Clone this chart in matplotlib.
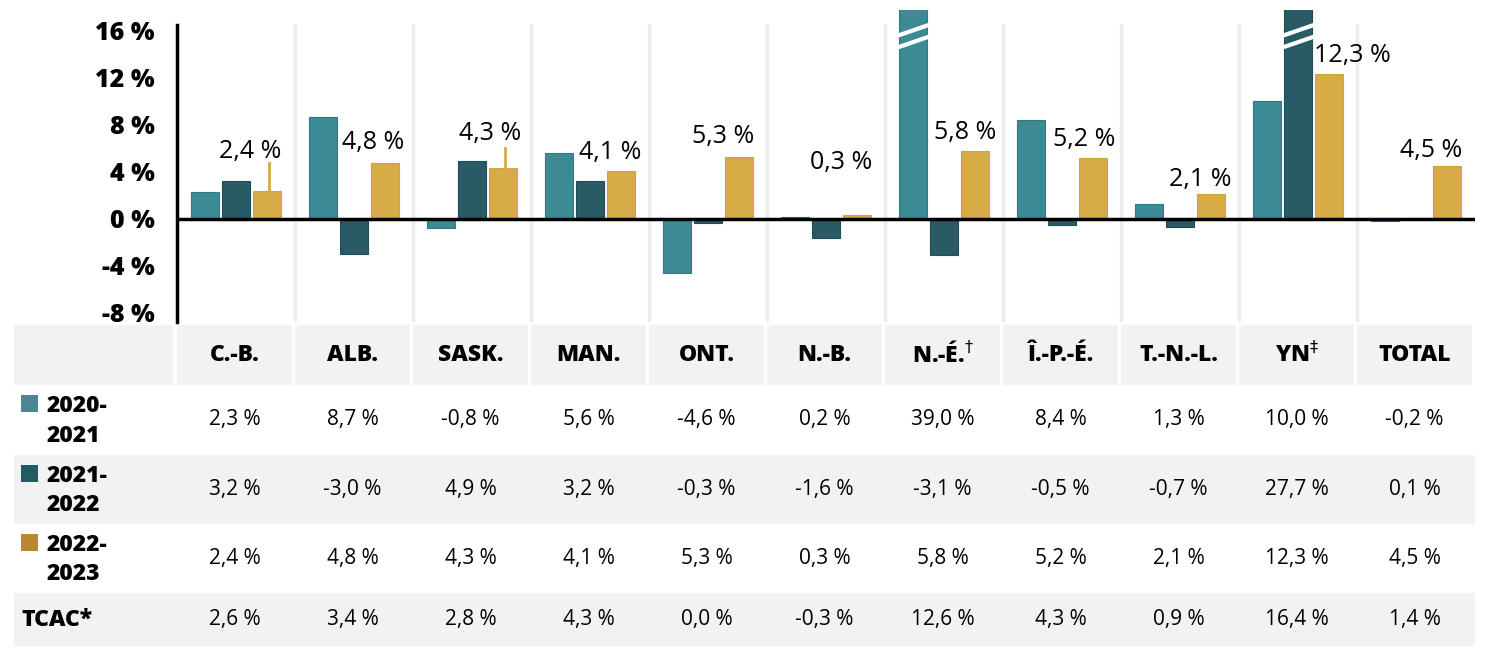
import matplotlib.pyplot as plt
from matplotlib.patches import Rectangle

# données
provinces = ["C.-B.", "ALB.", "SASK.", "MAN.", "ONT.", "N.-B.", "N.-É.$^{\\dagger}$",
             "Î.-P.-É.", "T.-N.-L.", "YN$^{\\ddagger}$", "TOTAL"]
v_2021 = [2.3, 8.7, -0.8, 5.6, -4.6, 0.2, 39.0, 8.4, 1.3, 10.0, -0.2]
v_2022 = [3.2, -3.0, 4.9, 3.2, -0.3, -1.6, -3.1, -0.5, -0.7, 27.7, 0.1]
v_2023 = [2.4, 4.8, 4.3, 4.1, 5.3, 0.3, 5.8, 5.2, 2.1, 12.3, 4.5]
tcac = [2.6, 3.4, 2.8, 4.3, 0.0, -0.3, 12.6, 4.3, 0.9, 16.4, 1.4]
row_labels = ["2020-\n2021", "2021-\n2022", "2022-\n2023", "TCAC*"]
yticks = [-8, -4, 0, 4, 8, 12, 16]
# petits traits au-dessus de certaines barres jaunes (C.-B., SASK.)
traits = {0: 4.8, 2: 6.0}

c_teal = "#3e8a94"
c_dark = "#295b65"
c_gold = "#d7ab46"
leg_cols = ["#4d8591", "#245a64", "#b8892e"]
gris = "#f1f2f2"
police = "Open Sans"

def fmt(v):
    return f"{v:.1f}".replace(".", ",") + " %"

fig = plt.figure(figsize=(15, 6.59), dpi=100)
W, H = 1500, 659

# ---- graphique ----
ax = fig.add_axes([177 / W, (H - 322) / H, 1298 / W, 312 / H])
ax.set_xlim(-0.5, 10.5)
ax.set_ylim(-8.766, 17.787)
n = len(provinces)
x = list(range(n))
bw = 0.24
off = 0.263

for i in range(n - 1):
    ax.plot([i + 0.5, i + 0.5], [-8.766, 16.5], color="#eceeee", lw=2.5, zorder=0)

ax.bar([i - off for i in x], v_2021, bw, color=c_teal, edgecolor="#2f7b85", lw=0.8, zorder=2)
ax.bar(x, v_2022, bw, color=c_dark, edgecolor="#1f4c55", lw=0.8, zorder=2)
ax.bar([i + off for i in x], v_2023, bw, color=c_gold, edgecolor="#cfa33f", lw=0.8, zorder=2)

for i, top in traits.items():
    ax.plot([i + off + 0.02, i + off + 0.02], [v_2023[i], top], color=c_gold, lw=2, zorder=2)

# coupures des barres tronquées
for i, vals, dx in [(6, v_2021, -off), (9, v_2022, 0)]:
    if vals[i] > 17.787:
        for yc in (16.05, 15.05):
            ax.plot([i + dx - bw / 2 - 0.01, i + dx + bw / 2 + 0.01],
                    [yc - 0.45, yc + 0.45], color="white", lw=3, zorder=3)

# étiquettes des barres jaunes (décalages en pixels)
lab_dx = [-17, -12, -13, -11, -16, -16, -10, -9, -11, 23, -16]
lab_dy = [39, 20, 35, 18, 20, 53, 18, 18, 15, 19, 16]
for i in x:
    ax.annotate(fmt(v_2023[i]), (i + off, v_2023[i]),
                xytext=(lab_dx[i] * 0.72, lab_dy[i] * 0.72), textcoords="offset points",
                ha="center", va="center", fontsize=18, family=police, zorder=4)

ax.axhline(0, color="black", lw=2.5, zorder=3)
for s in ["top", "right", "bottom"]:
    ax.spines[s].set_visible(False)
ax.spines["left"].set_linewidth(2.5)
ax.spines["left"].set_bounds(-8.766, 16.5)
ax.set_xticks([])
ax.set_yticks(yticks)
ax.set_yticklabels([f"{t} %" for t in yticks], fontsize=18, fontweight=800, family=police)
ax.tick_params(axis="y", length=0, pad=16)

# ---- tableau ----
tx0 = (14 - 177) / 118 - 0.5
at = fig.add_axes([14 / W, (H - 646) / H, 1462 / W, 321 / H])
at.set_xlim(tx0, 10.508)
at.set_ylim(646, 325)
at.axis("off")
rows = [325, 385, 455, 524, 593, 646]

# en-têtes
at.add_patch(Rectangle((tx0, rows[0]), (173 - 14) / 118, rows[1] - rows[0], color=gris, lw=0))
for i in x:
    at.add_patch(Rectangle((i - 0.5, rows[0]), 0.975, rows[1] - rows[0], color=gris, lw=0))
    at.text(i - 0.012, (rows[0] + rows[1]) / 2, provinces[i], ha="center", va="center",
            fontsize=16.5, fontweight=800, family=police)

# lignes grises
for r in (1, 3):
    at.add_patch(Rectangle((tx0 - 0.01, rows[r + 1]), 10.5 - tx0 + 0.01, rows[r + 2] - rows[r + 1],
                           color=gris, lw=0))

data_rows = [v_2021, v_2022, v_2023, tcac]
for r, vals in enumerate(data_rows):
    yc = (rows[r + 1] + rows[r + 2]) / 2
    for i in x:
        at.text(i - 0.012, yc, fmt(vals[i]), ha="center", va="center", fontsize=15,
                family=police)
    if r < 3:
        at.add_patch(Rectangle((tx0 + 7 / 118, rows[r + 1] + 10), 17 / 118, 17,
                               color=leg_cols[r], lw=0))
        at.text(tx0 + 33 / 118, yc + 1, row_labels[r], ha="left", va="center", fontsize=16.5,
                fontweight=800, family=police, linespacing=1.3)
    else:
        at.text(tx0 + 7 / 118, yc, row_labels[r], ha="left", va="center", fontsize=16.5,
                fontweight=800, family=police)

fig.savefig("out.png", dpi=100)
